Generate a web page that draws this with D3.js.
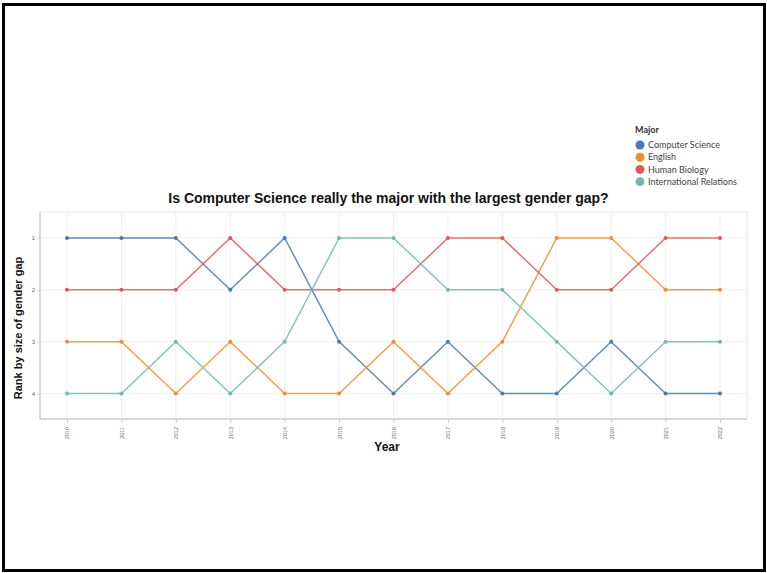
<!DOCTYPE html>
<html>
<head>
<meta charset="utf-8">
<script src="https://cdn.jsdelivr.net/npm/d3@7"></script>
<style>
  html, body { margin: 0; padding: 0; background: #fff; }
  svg { display: block; }
</style>
</head>
<body>
<div id="chart"></div>
<script>
const years = [2010, 2011, 2012, 2013, 2014, 2015, 2016, 2017, 2018, 2019, 2020, 2021, 2022];
const majors = ["Computer Science", "English", "Human Biology", "International Relations"];
const colors = ["#4e79a7", "#f28e2b", "#e15759", "#76b7b2"];
const rankTicks = [1, 2, 3, 4];
const csRanks = [1, 1, 1, 2, 1, 3, 4, 3, 4, 4, 3, 4, 4];
const englishRanks = [3, 3, 4, 3, 4, 4, 3, 4, 3, 1, 1, 2, 2];
const humanBioRanks = [2, 2, 2, 1, 2, 2, 2, 1, 1, 2, 2, 1, 1];
const intlRelRanks = [4, 4, 3, 4, 3, 1, 1, 2, 2, 3, 4, 3, 3];
const seriesValues = [csRanks, englishRanks, humanBioRanks, intlRelRanks];

const W = 767, H = 573;
const svg = d3.select("#chart").append("svg").attr("width", W).attr("height", H);

// frame
svg.append("rect").attr("x", 3.5).attr("y", 4.5).attr("width", 761).attr("height", 566)
  .attr("fill", "none").attr("stroke", "#000").attr("stroke-width", 3);

const plot = { left: 40, right: 747, top: 212, bottom: 419 };

const x = d3.scalePoint().domain(years).range([67, 720]);
const y = d3.scaleLinear().domain([1, 4]).range([238, 393.5]);

// plot background border
svg.append("rect").attr("x", plot.left).attr("y", plot.top)
  .attr("width", plot.right - plot.left).attr("height", plot.bottom - plot.top)
  .attr("fill", "none").attr("stroke", "#e6e6e6").attr("stroke-width", 1);

// gridlines
svg.append("g").selectAll("line.v").data(years).join("line")
  .attr("x1", d => x(d)).attr("x2", d => x(d))
  .attr("y1", plot.top).attr("y2", plot.bottom)
  .attr("stroke", "#efefef").attr("stroke-width", 1);
svg.append("g").selectAll("line.h").data(rankTicks).join("line")
  .attr("x1", plot.left).attr("x2", plot.right)
  .attr("y1", d => y(d)).attr("y2", d => y(d))
  .attr("stroke", "#efefef").attr("stroke-width", 1);

// axes
const xAxis = svg.append("g").attr("transform", `translate(0,${plot.bottom})`)
  .call(d3.axisBottom(x).tickSize(4).tickSizeOuter(0));
xAxis.select(".domain").remove();
svg.append("line").attr("x1", plot.left).attr("x2", plot.right)
  .attr("y1", plot.bottom).attr("y2", plot.bottom).attr("stroke", "#bdbdbd");
xAxis.selectAll(".tick line").attr("stroke", "#d0d0d0");
xAxis.selectAll(".tick text")
  .attr("font-family", "Liberation Sans, Arial, sans-serif")
  .attr("font-size", 5.5).attr("fill", "#666")
  .attr("transform", "rotate(-90)")
  .attr("x", -8).attr("y", 0).attr("dy", "0.35em")
  .attr("text-anchor", "end");

const yAxis = svg.append("g").attr("transform", `translate(${plot.left},0)`)
  .call(d3.axisLeft(y).tickValues(rankTicks).tickFormat(d3.format("d")).tickSize(3).tickSizeOuter(0));
yAxis.select(".domain").remove();
svg.append("line").attr("x1", plot.left).attr("x2", plot.left)
  .attr("y1", plot.top).attr("y2", plot.bottom).attr("stroke", "#bdbdbd");
yAxis.selectAll(".tick line").attr("stroke", "#d0d0d0");
yAxis.selectAll(".tick text")
  .attr("font-family", "Liberation Sans, Arial, sans-serif")
  .attr("font-size", 6).attr("fill", "#666").attr("x", -5);

// lines
const line = d3.line().x((d, i) => x(years[i])).y(d => y(d));
seriesValues.forEach((vals, s) => {
  svg.append("path").datum(vals).attr("d", line)
    .attr("fill", "none").attr("stroke", colors[s]).attr("stroke-width", 1.5)
    .attr("stroke-opacity", 0.85);
  svg.append("g").selectAll("circle").data(vals).join("circle")
    .attr("cx", (d, i) => x(years[i])).attr("cy", d => y(d)).attr("r", 2)
    .attr("fill", colors[s]);
});

// title
svg.append("text").attr("x", 388.5).attr("y", 203).attr("text-anchor", "middle")
  .attr("font-family", "Liberation Sans, Arial, sans-serif").attr("font-weight", "bold")
  .attr("font-size", 14).attr("fill", "#111")
  .text("Is Computer Science really the major with the largest gender gap?");

// axis titles
svg.append("text").attr("x", 387).attr("y", 451).attr("text-anchor", "middle")
  .attr("font-family", "Liberation Sans, Arial, sans-serif").attr("font-weight", "bold")
  .attr("font-size", 12).attr("fill", "#111").text("Year");
svg.append("text").attr("transform", "translate(22,328) rotate(-90)").attr("text-anchor", "middle")
  .attr("font-family", "Liberation Sans, Arial, sans-serif").attr("font-weight", "bold")
  .attr("font-size", 11).attr("fill", "#111").text("Rank by size of gender gap");

// legend
const lg = svg.append("g");
lg.append("text").attr("x", 635).attr("y", 133)
  .attr("font-family", "Lato, Open Sans, sans-serif").attr("font-weight", "bold")
  .attr("font-size", 9).attr("fill", "#333").text("Major");
majors.forEach((m, i) => {
  const cy = 145 + i * 12.2;
  lg.append("circle").attr("cx", 640).attr("cy", cy).attr("r", 4.5).attr("fill", colors[i]);
  lg.append("text").attr("x", 648).attr("y", cy).attr("dy", "0.35em")
    .attr("font-family", "Lato, Open Sans, sans-serif")
    .attr("font-size", 9).attr("fill", "#444").text(m);
});
</script>
</body>
</html>
